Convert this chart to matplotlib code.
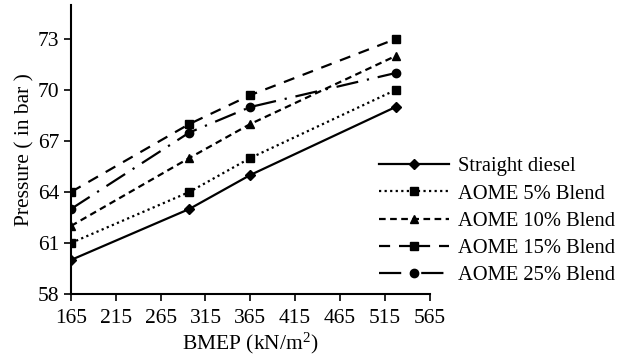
import matplotlib
matplotlib.use("Agg")
import matplotlib.pyplot as plt

plt.rcParams['font.family'] = ['Liberation Serif', 'DejaVu Serif']
plt.rcParams['mathtext.fontset'] = 'custom'
plt.rcParams['mathtext.rm'] = 'Liberation Serif'
plt.rcParams['mathtext.it'] = 'Liberation Serif:italic'

bmep = [165, 297, 365, 527]
diesel = [60, 63, 65, 69]
aome5 = [61, 64, 66, 70]
aome10 = [62, 66, 68, 72]
aome15 = [64, 68, 69.7, 73]
aome25 = [63, 67.5, 69, 71]
labels = ["Straight diesel", "AOME 5% Blend", "AOME 10% Blend",
          "AOME 15% Blend", "AOME 25% Blend"]
xticks = [165, 215, 265, 315, 365, 415, 465, 515, 565]
yticks = [58, 61, 64, 67, 70, 73]

FS = 15.5
LFS = 14.8

fig = plt.figure(figsize=(6.19, 3.62), dpi=100)
ax = fig.add_axes([0.1147, 0.188, 0.694 - 0.1147, 0.986 - 0.188])

series = [diesel, aome5, aome10, aome15, aome25]
styles = [
    dict(linestyle='-', marker='D', markersize=5),
    dict(linestyle=(0, (1, 1.5)), marker='s', markersize=6),
    dict(linestyle=(0, (3, 2)), marker='^', markersize=6),
    dict(linestyle=(0, (5, 4)), marker='s', markersize=6),
    dict(linestyle=(0, (10, 4, 1, 4)), marker='o', markersize=6),
]
for s, lab, st in zip(series, labels, styles):
    ax.plot(bmep, s, color='black', linewidth=1.6, label=lab, **st)

ax.set_xlim(165, 565)
ax.set_ylim(58, 75)
ax.set_xticks(xticks)
ax.set_yticks(yticks)
ax.spines['top'].set_visible(False)
ax.spines['right'].set_visible(False)
ax.spines['left'].set_linewidth(1.5)
ax.spines['bottom'].set_linewidth(1.5)
ax.tick_params(axis='both', labelsize=FS, direction='out', length=5, width=1.2)
ax.tick_params(axis='x', pad=6)
ax.set_xlabel(r'BMEP (kN/m$^{2}$)', fontsize=FS, labelpad=2)
ax.set_ylabel('Pressure ( in bar )', fontsize=FS, labelpad=2)

leg = ax.legend(loc='center left', bbox_to_anchor=(0.613, 0.389),
                bbox_transform=fig.transFigure, frameon=False, fontsize=LFS,
                handlelength=3.4, handletextpad=0.4, labelspacing=0.38,
                borderaxespad=0, borderpad=0)
fig.savefig('out.png', dpi=100)
